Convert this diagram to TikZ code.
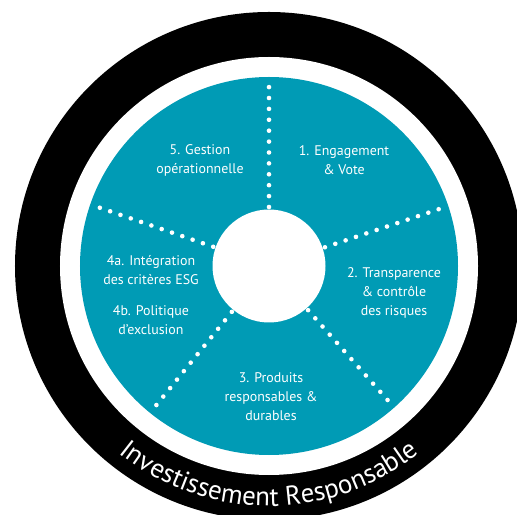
\documentclass[tikz,border=0pt]{standalone}
\usepackage{fontspec}
\setmainfont{PT Sans}
\usetikzlibrary{decorations.text}
\definecolor{tealmain}{RGB}{0,155,181}
\begin{document}
\begin{tikzpicture}[x=1bp,y=1bp,
  lbl/.style={text=white, align=center, font=\fontsize{14}{19}\selectfont, inner sep=0pt},
  dots/.style={white, line width=4.6bp, line cap=round, dash pattern=on 0bp off 10.9bp}]
\useasboundingbox (-269,-249) rectangle (248,266);
\coordinate (c) at (0,0);
\begin{scope}
\clip (-269,-249) rectangle (248,266);
\fill[black] (c) circle[radius=254];
\end{scope}
\fill[white] (c) circle[radius=209];
\fill[tealmain] (c) circle[radius=189];
\fill[white] (c) circle[radius=56.5];
% spokes
\foreach \a/\n in {90/a,18.5/b,-48.5/c,-129/d,161/e}{
  \coordinate (s\n) at (\a:59);
  \coordinate (t\n) at (\a:188);
  \draw[dots] (s\n) -- (t\n);
}
% labels
\node[lbl] (gestion) at (-69,106) {5. Gestion\\opérationnelle};
\node[lbl] (engag) at (75,106) {1. Engagement\\\& Vote};
\node[lbl] (transp) at (125,-27) {2. Transparence\\\& contrôle\\des risques};
\node[lbl] (integ) at (-118,-4) {4a. Intégration\\des critères ESG};
\node[lbl] (polit) at (-118,-54.5) {4b. Politique\\d’exclusion};
\node[lbl] (prod) at (2,-131) {3. Produits\\responsables \&\\durables};
% curved title
\path[decorate, decoration={text along path, text align=center, text color=white,
  text={|\fontsize{27}{27}\selectfont|Investissement Responsable}}]
  (-131:240) arc[start angle=-131, end angle=-49, radius=240];
\end{tikzpicture}
\end{document}
